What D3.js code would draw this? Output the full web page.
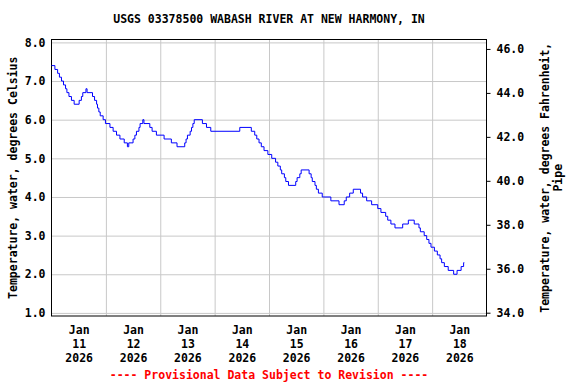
<!DOCTYPE html>
<html>
<head>
<meta charset="utf-8">
<script src="https://cdn.jsdelivr.net/npm/d3@7"></script>
<style>
  body { margin: 0; background: #fff; }
  svg text { font-family: "DejaVu Sans Mono", monospace; font-weight: bold; font-size: 11.5px; fill: #000; }
</style>
</head>
<body>
<script>
// Water temperature readings: hours after Jan 11 2026 00:00, value in deg C (step changes)
const stepHours = [0, 1.5, 2.7, 3.5, 4.4, 5.3, 6.2, 6.8, 7.7, 8.8, 10, 12.2, 13.2, 13.8, 15.2, 15.7,
  18.1, 19, 19.9, 20.3, 20.9, 21.5, 22.8, 23.8, 25.8, 27.2, 28.7, 30.2, 32.1, 33.5, 34.1, 36, 36.8,
  37.5, 38.6, 39.1, 40.3, 40.8, 43.4, 44.4, 46.3, 49.7, 52.9, 55.4, 58.8, 59.4, 60, 61.2, 61.8, 62.4,
  63, 66.6, 68.4, 70.3, 83.1, 88.2, 89.7, 90.6, 91.6, 92.6, 93.8, 95.5, 97.2, 98.9, 99.9, 101, 101.6,
  102.8, 103.4, 104.6, 107.8, 108.4, 109.6, 110.2, 113.7, 114.6, 115.1, 116.3, 116.9, 117.8, 119.5,
  123.3, 126.9, 129.2, 130.1, 131.6, 133.2, 136.4, 137.3, 139.1, 141.3, 144, 145.4, 147.5, 148.4,
  149.8, 151.6, 155, 157.5, 160.1, 162.2, 162.8, 164.5, 165.6, 166.6, 167.5, 169, 170.3, 171.5, 172.2,
  173.4, 175.1, 177.5, 179, 180.8, 181.9, 182.2];
const tempC = [7.4, 7.3, 7.2, 7.1, 7.0, 6.9, 6.8, 6.7, 6.6, 6.5, 6.4, 6.5, 6.6, 6.7, 6.8, 6.7,
  6.6, 6.5, 6.4, 6.3, 6.2, 6.1, 6.0, 5.9, 5.8, 5.7, 5.6, 5.5, 5.4, 5.3, 5.4, 5.5, 5.6,
  5.7, 5.8, 5.9, 6.0, 5.9, 5.8, 5.7, 5.6, 5.5, 5.4, 5.3, 5.4, 5.5, 5.6, 5.7, 5.8, 5.9,
  6.0, 5.9, 5.8, 5.7, 5.8, 5.7, 5.6, 5.5, 5.4, 5.3, 5.2, 5.1, 5.0, 4.9, 4.8, 4.7, 4.6,
  4.5, 4.4, 4.3, 4.4, 4.5, 4.6, 4.7, 4.6, 4.5, 4.4, 4.3, 4.2, 4.1, 4.0,
  3.9, 3.8, 3.9, 4.0, 4.1, 4.2, 4.1, 4.0, 3.9, 3.8, 3.7, 3.6, 3.5, 3.4,
  3.3, 3.2, 3.3, 3.4, 3.3, 3.2, 3.1, 3.0, 2.9, 2.8, 2.7, 2.6, 2.5, 2.4, 2.3,
  2.2, 2.1, 2.0, 2.1, 2.2, 2.3, 2.3];

const dayLabels = ["11", "12", "13", "14", "15", "16", "17", "18"];
const celsiusTicks = [1, 2, 3, 4, 5, 6, 7, 8];
const fahrenheitTicks = [34, 36, 38, 40, 42, 44, 46];

const W = 576, H = 384;
const plotLeft = 51.5, plotRight = 486.5, plotTop = 39.5, plotBottom = 316;
const start = new Date(2026, 0, 11);
const end = new Date(2026, 0, 19);

const svg = d3.select("body").append("svg")
  .attr("width", W)
  .attr("height", H);

const x = d3.scaleTime().domain([start, end]).range([plotLeft, plotRight]);
const y = d3.scaleLinear().domain([0.92, 8.075]).range([plotBottom, plotTop]);
const yF = d3.scaleLinear().domain([33.85, 46.43]).range([plotBottom, plotTop]);

const data = stepHours.map((h, i) => ({ t: new Date(start.getTime() + h * 3600e3), v: tempC[i] }));

// Vertical grid at midnight
const midnights = d3.timeDay.range(d3.timeDay.offset(start, 1), end);
svg.append("g")
  .attr("transform", `translate(0,${plotBottom})`)
  .call(d3.axisBottom(x).tickValues(midnights).tickSize(-(plotBottom - plotTop)).tickFormat(""))
  .call(g => g.select(".domain").remove())
  .call(g => g.selectAll("line").attr("stroke", "#c8c8c8"));

// Horizontal grid + left labels
svg.append("g")
  .attr("transform", `translate(${plotLeft},0)`)
  .call(d3.axisLeft(y).tickValues(celsiusTicks).tickSize(-(plotRight - plotLeft)).tickPadding(6)
    .tickFormat(d3.format(".1f")))
  .call(g => g.select(".domain").remove())
  .call(g => g.selectAll("line").attr("stroke", "#c8c8c8"))
  .call(g => g.selectAll("text").attr("x", -6));

// Right axis (Fahrenheit)
svg.append("g")
  .attr("transform", `translate(${plotRight},0)`)
  .call(d3.axisRight(yF).tickValues(fahrenheitTicks).tickSize(4).tickPadding(6)
    .tickFormat(d3.format(".1f")))
  .call(g => g.select(".domain").remove())
  .call(g => g.selectAll("line").attr("stroke", "#000"));

// Date labels at noon
const noons = dayLabels.map((d, i) => d3.timeHour.offset(start, 12 + 24 * i));
const xAxis = svg.append("g")
  .attr("transform", `translate(0,${plotBottom})`)
  .call(d3.axisBottom(x).tickValues(noons).tickSize(0).tickFormat(""))
  .call(g => g.select(".domain").remove());
xAxis.selectAll(".tick").each(function(d, i) {
  const t = d3.select(this).select("text").attr("y", 0).attr("dy", null);
  ["Jan", dayLabels[i], "2026"].forEach((s, k) => {
    t.append("tspan").attr("x", 0).attr("y", 18 + k * 14).text(s);
  });
});

// Frame
svg.append("rect")
  .attr("x", plotLeft).attr("y", plotTop)
  .attr("width", plotRight - plotLeft).attr("height", plotBottom - plotTop)
  .attr("fill", "none").attr("stroke", "#000");

// Temperature line
const line = d3.line()
  .x(d => x(d.t))
  .y(d => y(d.v))
  .curve(d3.curveStepAfter);
svg.append("path")
  .datum(data)
  .attr("fill", "none")
  .attr("stroke", "#0000ff")
  .attr("stroke-width", 1)
  .attr("d", line);

// Title
svg.append("text")
  .attr("x", (plotLeft + plotRight) / 2).attr("y", 23)
  .attr("text-anchor", "middle")
  .text("USGS 03378500 WABASH RIVER AT NEW HARMONY, IN");

// Axis titles
svg.append("text")
  .attr("transform", `translate(17,${(plotTop + plotBottom) / 2}) rotate(-90)`)
  .attr("text-anchor", "middle")
  .text("Temperature, water, degrees Celsius");

const rt = svg.append("text")
  .attr("transform", `translate(549,${(plotTop + plotBottom) / 2}) rotate(-90)`)
  .attr("text-anchor", "middle");
rt.append("tspan").attr("x", 0).attr("y", 0).text("Temperature, water, degrees Fahrenheit,");
rt.append("tspan").attr("x", 0).attr("y", 13).text("Pipe");

// Provisional note
svg.append("text")
  .attr("x", (plotLeft + plotRight) / 2).attr("y", 379)
  .attr("text-anchor", "middle")
  .style("fill", "#ff0000")
  .text("---- Provisional Data Subject to Revision ----");
</script>
</body>
</html>
